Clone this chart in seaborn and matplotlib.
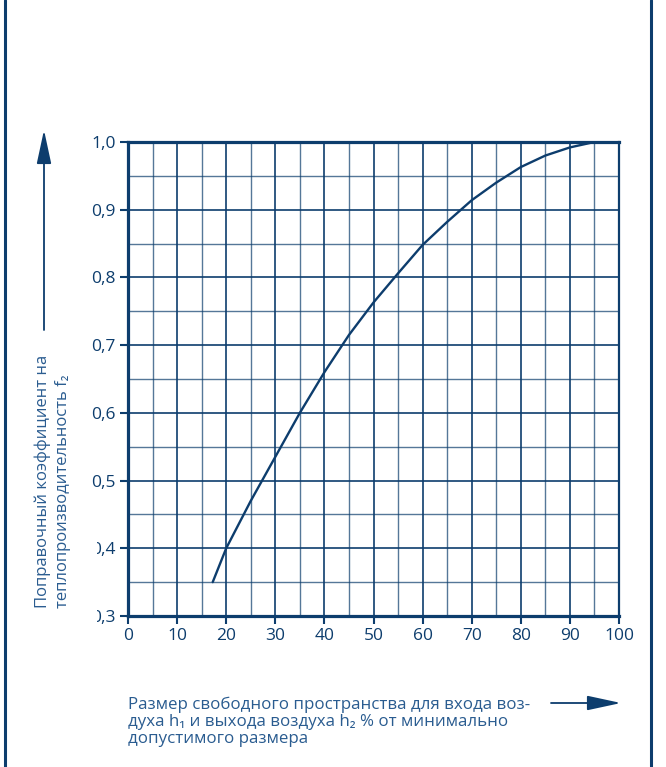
import matplotlib
matplotlib.use("Agg")
import matplotlib.pyplot as plt
import seaborn as sns
from matplotlib.lines import Line2D
from matplotlib.patches import Rectangle

# === Data ===
gap_pct = [17.25, 20, 25, 30, 35, 40, 45, 50, 55, 60, 65, 70, 75, 80, 85, 90, 95, 100]
f2 = [0.35, 0.40, 0.47, 0.535, 0.60, 0.66, 0.715, 0.763, 0.806, 0.848,
      0.882, 0.914, 0.94, 0.963, 0.98, 0.992, 1.0, 1.0]

x_ticks = [0, 10, 20, 30, 40, 50, 60, 70, 80, 90, 100]
x_minor = [5, 15, 25, 35, 45, 55, 65, 75, 85, 95]
y_ticks = [0.3, 0.4, 0.5, 0.6, 0.7, 0.8, 0.9, 1.0]
y_minor = [0.35, 0.45, 0.55, 0.65, 0.75, 0.85, 0.95]
y_tick_labels = ["0,3", "0,4", "0,5", "0,6", "0,7", "0,8", "0,9", "1,0"]

x_label = ("Размер свободного пространства для входа воз-\n"
           "духа h\u2081 и выхода воздуха h\u2082 % от минимально\n"
           "допустимого размера")
y_label_1 = "Поправочный коэффициент на"
y_label_2 = "теплопроизводительность f\u2082"

NAVY = "#0d3d6d"
TEXT_BLUE = "#2a5c90"

# === Style ===
sns.set_style("white")
plt.rcParams["font.family"] = ["Open Sans", "DejaVu Sans"]

W, H = 666, 767
fig = plt.figure(figsize=(W / 100, H / 100), dpi=100)
ax = fig.add_axes([128 / W, 1 - 616 / H, 491 / W, 474 / H])

sns.lineplot(x=gap_pct, y=f2, ax=ax, color=NAVY, lw=1.7, zorder=5)

ax.set_xlim(0, 100)
ax.set_ylim(0.3, 1.0)
ax.set_xticks(x_ticks)
ax.set_xticks(x_minor, minor=True)
ax.set_yticks(y_ticks)
ax.set_yticks(y_minor, minor=True)
ax.set_yticklabels(y_tick_labels)

ax.grid(which="major", color=NAVY, lw=1.2)
ax.grid(which="minor", color=NAVY, lw=1.0, alpha=0.7)
ax.tick_params(which="minor", length=0)
ax.tick_params(which="major", direction="out", length=6, width=1.5,
               color=NAVY, labelcolor=NAVY, labelsize=12.5, pad=3,
               bottom=True, left=True)
for name, sp in ax.spines.items():
    sp.set_visible(True)
    sp.set_color(NAVY)
    sp.set_linewidth(1.6 if name == "right" else 2.3)
    sp.set_zorder(6)
ax.set_xlabel("")
ax.set_ylabel("")

# white patch that clips the lower y tick labels, as in the scan
fig.add_artist(Rectangle((0, 1 - 630 / H), 97 / W, 105 / H,
                         transform=fig.transFigure, facecolor="white",
                         edgecolor="none", zorder=2))

# === Axis titles with arrows ===
fig.text(43 / W, 1 - 608 / H, y_label_1, rotation=90, ha="center", va="bottom",
         color=TEXT_BLUE, fontsize=12, zorder=3)
fig.text(63 / W, 1 - 608 / H, y_label_2, rotation=90, ha="center", va="bottom",
         color=TEXT_BLUE, fontsize=12, zorder=3)
fig.text(128 / W, 1 - 697 / H, x_label, ha="left", va="top",
         color=TEXT_BLUE, fontsize=12.2, linespacing=1.06, zorder=3)

arrow = dict(arrowstyle="-|>,head_length=1.3,head_width=0.28", color=NAVY,
             lw=1.3, mutation_scale=16, shrinkA=0, shrinkB=0)
ax.annotate("", xy=(44, H - 130), xycoords="figure pixels",
            xytext=(44, H - 330), textcoords="figure pixels",
            arrowprops=arrow, annotation_clip=False)
ax.annotate("", xy=(621, H - 703), xycoords="figure pixels",
            xytext=(551, H - 703), textcoords="figure pixels",
            arrowprops=arrow, annotation_clip=False)

# === Frame of the page ===
for xp in (5, 651):
    fig.add_artist(Line2D([xp / W, xp / W], [0, 1], transform=fig.transFigure,
                          color=NAVY, lw=2.2, zorder=4))

fig.savefig("out.png", dpi=100)
